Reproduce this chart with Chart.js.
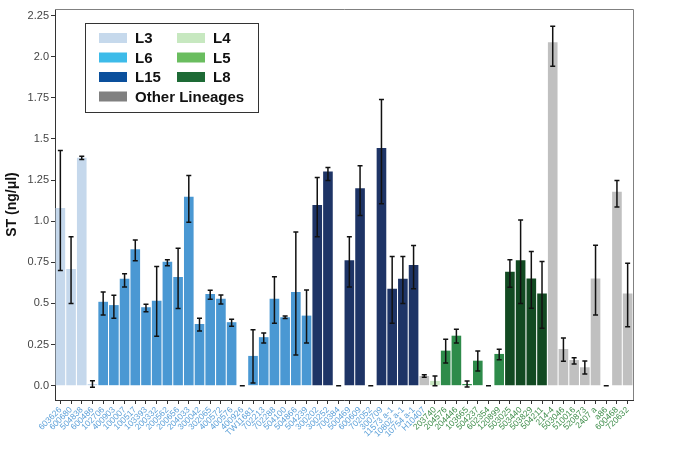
<!DOCTYPE html>
<html lang="en">
<head>
<meta charset="UTF-8">
<title>ST (ng/μl)</title>
<script src="https://cdn.jsdelivr.net/npm/chart.js"></script>
<style>
    body { margin: 0; background: #fff; }
    #wrap { width: 691px; height: 464px; position: relative; }
</style>
</head>
<body>
<div id="wrap"><canvas id="stChart"></canvas></div>
<script>
// strains on the x axis
const strains = ["603626","600680","504838","600486","102706","400903","100007","100517","103393","200332",
    "200562","200656","204033","300042","302065","400572","400576","400926","TW11681","702213",
    "702288","504100","504866","504239","300202","300252","700384","500469","600609","702052",
    "300709","11573 a-1","10802 a-1","10754 a-1","H10407","203740","204576","204446","103665","504237",
    "602354","120899","503025","503440","503829","504211","214-4","503046","510016","520873",
    "2407 a","a86","600468","720632"];

// lineage of each strain (bar colour)
const lineage = ["L3","L3","L3","L3","L6","L6","L6","L6","L6","L6",
    "L6","L6","L6","L6","L6","L6","L6","L6","L6","L6",
    "L6","L6","L6","L6","L15","L15","L15","L15","L15","L15",
    "L15","L15","L15","L15","Other","L4","L5","L5","L5","L5",
    "L5","L5","L8","L8","L8","L8","Other","Other","Other","Other",
    "Other","Other","Other","Other"];

// mean ST
const stMean = [1.08,0.71,1.385,0.01,0.51,0.49,0.65,0.83,0.477,0.517,
    0.753,0.66,1.149,0.375,0.558,0.528,0.386,0,0.181,0.295,
    0.528,0.416,0.57,0.426,1.098,1.302,0,0.763,1.20,0,
    1.445,0.589,0.65,0.733,0.059,0.029,0.213,0.304,0.01,0.152,
    0,0.193,0.692,0.763,0.651,0.56,2.088,0.223,0.156,0.112,
    0.651,0,1.179,0.56];

// error bar ends
const errLow = [0.70,0.50,1.375,-0.01,0.43,0.41,0.60,0.76,0.45,0.30,
    0.729,0.47,0.994,0.333,0.526,0.497,0.361,0,0.016,0.26,
    0.38,0.408,0.187,0.26,0.905,1.248,0,0.60,1.035,0,
    1.106,0.38,0.50,0.59,0.051,0,0.138,0.26,-0.008,0.089,
    0,0.158,0.599,0.499,0.471,0.349,1.942,0.148,0.132,0.071,
    0.43,0,1.086,0.359];
const errHigh = [1.43,0.905,1.395,0.03,0.57,0.55,0.68,0.885,0.495,0.724,
    0.765,0.836,1.278,0.41,0.58,0.552,0.404,0,0.34,0.32,
    0.663,0.424,0.935,0.582,1.266,1.327,0,0.905,1.337,0,
    1.74,0.785,0.785,0.852,0.067,0.059,0.282,0.343,0.029,0.211,
    0,0.221,0.765,1.007,0.816,0.755,2.185,0.29,0.17,0.15,
    0.854,0,1.248,0.745];

const yTicks = [0, 0.25, 0.5, 0.75, 1.0, 1.25, 1.5, 1.75, 2.0, 2.25];
const yTickLabels = ["0.0","0.25","0.5","0.75","1.0","1.25","1.5","1.75","2.0","2.25"];

// bar colours and legend colours (the legend uses brighter swatches)
const barColors = { L3: "#c5d8ec", L6: "#4a98d3", L15: "#1e3466", L4: "#c8e6c1", L5: "#2e8b4a", L8: "#124a22", Other: "#c0c0c0" };
const legendItems = [
    ["L3", "#c6d9ec"], ["L4", "#c7e8c0"],
    ["L6", "#3dbbe9"], ["L5", "#6abd5f"],
    ["L15", "#0a4f9c"], ["L8", "#1d6a35"],
    ["Other Lineages", "#808080"]
];
const firstGreenLabel = strains.indexOf("203740");

// error bars on top of the bars
const errorBars = {
    id: "errorBars",
    afterDatasetsDraw(chart) {
        const ctx = chart.ctx;
        const y = chart.scales.y;
        const meta = chart.getDatasetMeta(0);
        ctx.save();
        ctx.strokeStyle = "#111";
        ctx.lineWidth = 1.5;
        meta.data.forEach((bar, i) => {
            const x = bar.x;
            const yl = y.getPixelForValue(errLow[i]);
            const yh = y.getPixelForValue(errHigh[i]);
            const cap = 2.5;
            ctx.beginPath();
            ctx.moveTo(x, yl); ctx.lineTo(x, yh);
            ctx.moveTo(x - cap, yl); ctx.lineTo(x + cap, yl);
            ctx.moveTo(x - cap, yh); ctx.lineTo(x + cap, yh);
            ctx.stroke();
        });
        ctx.restore();
    }
};

// frame + legend box
const frameAndLegend = {
    id: "frameAndLegend",
    afterDraw(chart) {
        const ctx = chart.ctx;
        const a = chart.chartArea;
        ctx.save();
        ctx.strokeStyle = "#808080";
        ctx.lineWidth = 1;
        ctx.beginPath();
        ctx.moveTo(a.left, a.top + 0.5);
        ctx.lineTo(a.right + 0.5, a.top + 0.5);
        ctx.lineTo(a.right + 0.5, a.bottom);
        ctx.stroke();

        // legend
        const bx = 85, by = 23, bw = 173, bh = 89;
        ctx.strokeStyle = "#333";
        ctx.strokeRect(bx + 0.5, by + 0.5, bw, bh);
        ctx.font = "bold 15px 'Liberation Sans', Arial, sans-serif";
        ctx.textBaseline = "middle";
        ctx.fillStyle = "#111";
        legendItems.forEach((it, k) => {
            const col = k < 6 ? k % 2 : 0;
            const row = Math.floor(k / 2);
            const sx = bx + 14 + col * 78;
            const sy = by + 15 + row * 19.5;
            ctx.fillStyle = it[1];
            ctx.fillRect(sx, sy - 5, 28, 10);
            ctx.fillStyle = "#111";
            ctx.fillText(it[0], sx + 36, sy + 1);
        });
        ctx.restore();
    }
};

new Chart(document.getElementById("stChart"), {
    type: "bar",
    data: {
        labels: strains,
        datasets: [{
            data: stMean,
            backgroundColor: lineage.map(l => barColors[l]),
            borderWidth: 0,
            categoryPercentage: 0.9,
            barPercentage: 1.0
        }]
    },
    options: {
        responsive: true,
        maintainAspectRatio: false,
        animation: false,
        layout: { padding: { top: 9, right: 58, left: 0, bottom: 0 } },
        plugins: { legend: { display: false }, tooltip: { enabled: false } },
        scales: {
            x: {
                offset: true,
                grid: { display: true, drawOnChartArea: false, offset: false, tickLength: 4, color: "#333", tickWidth: 1 },
                border: { display: true, color: "#333", width: 1 },
                ticks: {
                    autoSkip: false,
                    minRotation: 45,
                    maxRotation: 45,
                    padding: 1,
                    font: { family: "'Liberation Sans', Arial, sans-serif", size: 8.5 },
                    color: ctx => ctx.index < firstGreenLabel ? "#5a9fd8" : "#3c8c48"
                },
                afterFit(scale) { scale.height = 64; }
            },
            y: {
                min: -0.087,
                max: 2.29,
                afterBuildTicks(scale) { scale.ticks = yTicks.map(v => ({ value: v })); },
                grid: { display: true, drawOnChartArea: false, tickLength: 4, color: "#333" },
                border: { display: true, color: "#333", width: 1 },
                ticks: {
                    padding: 2,
                    font: { family: "'Liberation Sans', Arial, sans-serif", size: 11 },
                    color: "#444",
                    callback: (v) => yTickLabels[yTicks.indexOf(v)]
                },
                title: {
                    display: true,
                    text: "ST (ng/μl)",
                    color: "#111",
                    font: { family: "'Liberation Sans', Arial, sans-serif", size: 14, weight: "bold" },
                    padding: { top: 4, bottom: 0 }
                },
                afterFit(scale) { scale.width = 55; }
            }
        }
    },
    plugins: [errorBars, frameAndLegend]
});
</script>
</body>
</html>
